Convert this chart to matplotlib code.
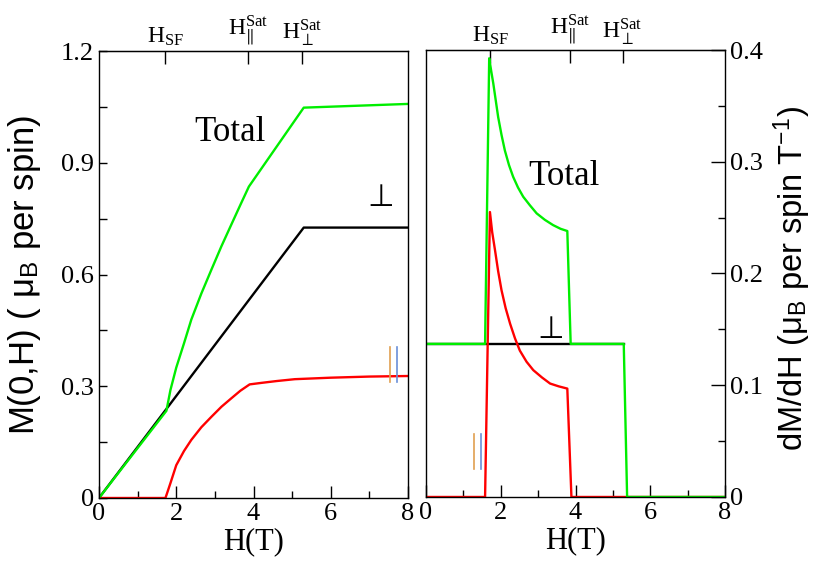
import matplotlib
matplotlib.use("Agg")
import matplotlib.pyplot as plt
from matplotlib.ticker import MultipleLocator

plt.rcParams["mathtext.fontset"] = "stix"

# magnetisation M(0,H)
H_tot = [0, 1.745, 1.85, 2.0, 2.2, 2.39, 2.65, 2.91, 3.17, 3.43, 3.66, 3.88, 5.30, 8.0]
M_tot = [0, 0.234, 0.29, 0.35, 0.415, 0.479, 0.549, 0.613, 0.676, 0.735, 0.787, 0.836, 1.048, 1.058]
H_perp = [0, 5.30, 8.0]
M_perp = [0, 0.726, 0.726]
H_par = [0, 1.72, 1.76, 1.85, 2.0, 2.2, 2.39, 2.65, 2.91, 3.17, 3.43, 3.66, 3.90,
         4.2, 4.6, 5.07, 6.0, 7.0, 8.0]
M_par = [0, 0, 0.012, 0.04, 0.088, 0.126, 0.156, 0.19, 0.218, 0.245, 0.268, 0.288, 0.305,
         0.309, 0.314, 0.319, 0.323, 0.326, 0.3275]

# susceptibility dM/dH
Hd_tot = [0, 1.58, 1.69, 1.745, 1.80, 1.865, 1.93, 2.02, 2.11, 2.22, 2.33, 2.46, 2.60, 2.78,
          2.96, 3.18, 3.40, 3.60, 3.78, 3.87, 5.29, 5.38, 8.0]
D_tot = [0.137, 0.137, 0.3926, 0.381, 0.370, 0.355, 0.340, 0.324, 0.310, 0.297, 0.2866, 0.277,
         0.2687, 0.261, 0.2538, 0.248, 0.2433, 0.240, 0.238, 0.137, 0.137, 0, 0]
Hd_perp = [0, 5.30]
D_perp = [0.137, 0.137]
Hd_par = [0, 1.58, 1.71, 1.77, 1.845, 1.93, 2.02, 2.13, 2.25, 2.38, 2.51, 2.69, 2.87, 3.10,
          3.32, 3.55, 3.78, 3.89, 8.0]
D_par = [0, 0, 0.255, 0.237, 0.221, 0.202, 0.185, 0.169, 0.155, 0.142, 0.131, 0.121, 0.1135,
         0.107, 0.1015, 0.099, 0.097, 0, 0]

# critical fields on top axis
H_crit = [1.72, 3.86, 5.26]
crit_labels = [r"H$_\mathregular{SF}$", r"H$_{\|}^\mathregular{Sat}$", r"H$_{\perp}^\mathregular{Sat}$"]

serif = "Liberation Serif"
sans = "Liberation Sans"
lw = 1.7

fig = plt.figure(figsize=(8.29, 5.67), dpi=100)
ax1 = fig.add_axes([0.1194, 0.1217, 0.3728, 0.7883])
ax2 = fig.add_axes([0.5139, 0.1235, 0.3607, 0.7883])

ax1.plot(H_perp, M_perp, color="black", lw=lw)
ax1.plot(H_par, M_par, color="#ff0000", lw=lw)
ax1.plot(H_tot, M_tot, color="#00ee00", lw=lw)

ax2.plot(Hd_perp, D_perp, color="black", lw=lw)
ax2.plot(Hd_par, D_par, color="#ff0000", lw=lw)
ax2.plot(Hd_tot, D_tot, color="#00ee00", lw=lw)

for ax in (ax1, ax2):
    ax.set_xlim(0, 8)
    ax.xaxis.set_major_locator(MultipleLocator(2))
    ax.xaxis.set_minor_locator(MultipleLocator(1))
    ax.tick_params(which="both", direction="in", labelsize=19, width=1)
    ax.tick_params(axis="x", which="major", length=9)
    ax.tick_params(axis="x", which="minor", length=5)
    for lab in ax.get_xticklabels() + ax.get_yticklabels():
        lab.set_family(serif)
    for s in ax.spines.values():
        s.set_linewidth(1)
    ax.set_xlabel("H(T)", family=serif, size=22, labelpad=2)
    top = ax.secondary_xaxis("top")
    top.set_xticks(H_crit, crit_labels, family=serif, size=17)
    top.tick_params(direction="in", length=9, width=1, pad=2)

ax1.set_ylim(0, 1.2)
ax1.yaxis.set_minor_locator(MultipleLocator(0.15))
ax1.tick_params(axis="y", which="both", length=6)
ax1.set_yticks([0, 0.3, 0.6, 0.9, 1.2], ["0", "0.3", "0.6", "0.9", "1.2"], family=serif)
ax1.set_ylabel("M(0,H) ( μ$_\\mathregular{B}$ per spin)", family=sans, size=25)
ax1.yaxis.set_label_coords(-0.18, 0.5)

ax2.set_ylim(0, 0.4)
ax2.yaxis.set_minor_locator(MultipleLocator(0.05))
ax2.yaxis.tick_right()
ax2.yaxis.set_label_position("right")
ax2.tick_params(axis="y", which="major", length=10)
ax2.tick_params(axis="y", which="minor", length=5)
ax2.set_yticks([0, 0.1, 0.2, 0.3, 0.4], ["0", "0.1", "0.2", "0.3", "0.4"], family=serif)
ax2.set_ylabel("dM/dH (μ$_\\mathregular{B}$ per spin T$^\\mathregular{-1}$)", family=sans, size=23.5)
ax2.yaxis.set_label_coords(1.155, 0.49)

ax1.text(3.39, 0.98, "Total", family=serif, size=25, ha="center", va="center")
ax2.text(3.69, 0.2866, "Total", family=serif, size=25, ha="center", va="center")
ax1.text(7.3, 0.768, "⊥", family="DejaVu Sans", size=22, ha="center", va="bottom")
ax2.text(3.34, 0.137, "⊥", family="DejaVu Sans", size=22, ha="center", va="bottom")

# parallel markers (orange / blue double bar)
ax1.plot([7.53, 7.53], [0.311, 0.405], color="#e0a050", lw=1.2)
ax1.plot([7.72, 7.72], [0.311, 0.405], color="#6a8fd8", lw=1.2)
ax2.plot([1.28, 1.28], [0.025, 0.056], color="#e0a050", lw=1.2)
ax2.plot([1.47, 1.47], [0.025, 0.056], color="#6a8fd8", lw=1.2)

fig.savefig("out.png", dpi=100)
